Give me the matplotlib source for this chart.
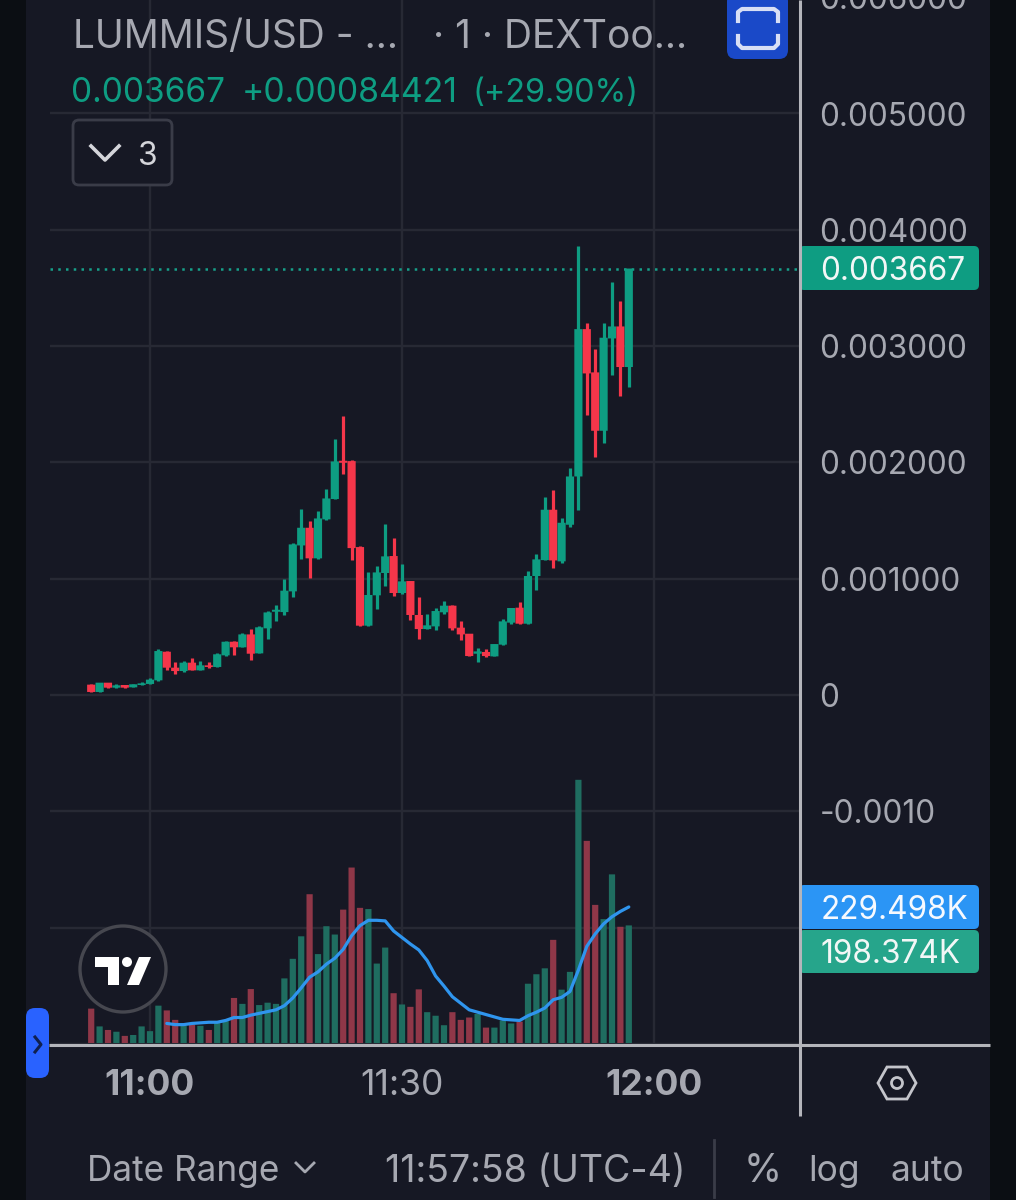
"""
plot.py

LUMMIS/USD 1 minute candles with volume and volume MA, phone screenshot style.
"""

import numpy as np
import matplotlib
matplotlib.use("Agg")
import matplotlib.pyplot as plt
from matplotlib.patches import Rectangle, FancyBboxPatch, Circle, Polygon

plt.rcParams["font.family"] = ["Inter", "DejaVu Sans"]

# minutes relative to 11:00, one candle per minute
minutes = list(range(-7, 58))

# prices in millionths of a USD
opens = [89, 26, 106, 63, 86, 66, 86, 95, 126, 372, 235, 206, 278, 212, 255, 241, 341, 458, 410, 521,
         358, 573, 716, 713, 891, 1286, 1438, 1175, 1510, 1685, 2014, 2011, 1272, 596, 857, 1049, 1195,
         877, 980, 688, 567, 590, 711, 768, 579, 527, 355, 370, 332, 433, 622, 751, 613, 1023, 1160,
         1593, 1149, 1464, 1879, 3146, 2774, 2272, 3066, 3169, 2820]
closes = [26, 106, 63, 83, 63, 92, 100, 132, 378, 235, 206, 278, 212, 255, 241, 350, 458, 410, 521, 355,
          582, 710, 733, 897, 1295, 1438, 1175, 1518, 1690, 2008, 1997, 1263, 596, 860, 1054, 1192, 877,
          977, 688, 567, 599, 722, 768, 573, 521, 335, 375, 335, 438, 633, 748, 613, 1023, 1166, 1593,
          1157, 1481, 1879, 3146, 2765, 2272, 3072, 3169, 2820, 3667]
highs = [95, 106, 106, 97, 86, 92, 112, 143, 395, 375, 284, 292, 315, 292, 284, 358, 461, 461, 536, 564,
         593, 722, 771, 1000, 1306, 1602, 1496, 1579, 1773, 2200, 2401, 2020, 1280, 1060, 1112, 1467,
         1352, 1129, 980, 842, 699, 751, 811, 771, 633, 527, 401, 393, 438, 650, 748, 802, 1066, 1209,
         1702, 1765, 1524, 1954, 3862, 3195, 2974, 3195, 3553, 3387, 3667]
lows = [26, 26, 63, 63, 63, 66, 86, 92, 123, 218, 183, 198, 212, 212, 232, 241, 332, 341, 410, 298,
        358, 484, 633, 685, 842, 1172, 1008, 1166, 1501, 1685, 1897, 1157, 596, 596, 736, 934, 851,
        868, 642, 478, 567, 556, 699, 562, 470, 335, 284, 324, 332, 433, 613, 613, 613, 900, 1160,
        1092, 1135, 1447, 1590, 2407, 2049, 2169, 2754, 2573, 2650]

# volume in thousands
volume = [58, 28, 22, 19, 12, 13.5, 28, 20, 63, 55, 39, 29, 31, 29, 22, 34, 37, 76, 66, 91,
          64, 68, 66, 109, 142, 180, 251, 150, 197, 183, 225, 296, 228, 226, 134, 161, 84,
          65, 61, 90.5, 52, 46, 30, 52, 39, 43, 49, 26, 26, 38, 33, 36, 100, 116, 126,
          174, 90, 120, 444, 341, 233, 209, 284.5, 196, 198.374]
volume_ma = [33, 31, 31, 33, 34, 35, 35, 38, 43, 43, 47, 50, 53, 56, 63, 76, 93, 111, 120, 133, 143,
             158, 181, 198, 207, 207, 206, 189, 178, 167, 157, 139, 113, 96, 78, 67, 56, 52, 48, 44,
             40, 39, 38, 46, 52, 59, 73, 77, 87, 123, 163, 184, 201, 213, 222, 229.498]
ma_minutes = list(range(2, 58))

last_price = 3667
price_ticks = [-3000, -2000, -1000, 0, 1000, 2000, 3000, 4000, 5000, 6000]
price_tick_labels = ["", "", "-0.0010", "0", "0.001000", "0.002000", "0.003000",
                     "0.004000", "0.005000", "0.006000"]
time_ticks = [0, 30, 60]
time_labels = ["11:00", "11:30", "12:00"]

BG = "#161824"
OUTER = "#0b0e13"
GRID = "#272934"
GREEN = "#0e9d82"
RED = "#f5364a"
VOL_GREEN = "#1f6d60"
VOL_RED = "#8f3748"
TEXT = "#a6a8b1"
LINE = "#b4b5bb"
W, H = 1016, 1200

fig = plt.figure(figsize=(W / 100, H / 100), dpi=100, facecolor=BG)

# the plot area runs a little above the canvas so the 0.006000 label gets cut off
top_px, bottom_px, left_px, right_px = -10, 1045, 50, 800
pos = [left_px / W, 1 - bottom_px / H, (right_px - left_px) / W, (bottom_px - top_px) / H]

ax = fig.add_axes(pos, facecolor=BG, zorder=1)
ax.set_xlim((left_px - 150) / 8.4, (right_px - 150) / 8.4)
# 0 sits at y=695, 1000 units are 116.3 px
ax.set_ylim((695 - bottom_px) / 0.1163, (695 - top_px) / 0.1163)
for spine in ax.spines.values():
    spine.set_visible(False)
ax.set_yticks(price_ticks)
ax.set_yticklabels(price_tick_labels, fontsize=22.7, color=TEXT)
ax.yaxis.tick_right()
ax.tick_params(axis="y", length=0, pad=14)
ax.set_xticks(time_ticks)
ax.set_xticklabels(time_labels, fontsize=25.5, color=TEXT)
ax.tick_params(axis="x", length=0, pad=17)
for tick, weight in zip(ax.get_xticklabels(), ["bold", "normal", "bold"]):
    tick.set_fontweight(weight)
ax.grid(True, color=GRID, linewidth=1.7)
ax.set_axisbelow(True)

o = np.array(opens)
c = np.array(closes)
colors = [GREEN if b >= a else RED for a, b in zip(o, c)]
ax.vlines(minutes, lows, highs, colors=colors, linewidth=2.3, zorder=3)
# snap off, otherwise the bodies get rounded down to whole pixels and look thin
ax.bar(minutes, np.maximum(np.abs(c - o), 8), bottom=np.minimum(o, c), width=0.97, color=colors,
       zorder=3, snap=False)
ax.axhline(last_price, color="#17a08a", linewidth=1.8, linestyle=(0, (1, 2.1)), zorder=2)

# volume pane shares the area, baseline at y=1043, 1.687K per px
vax = fig.add_axes(pos, facecolor="none", zorder=2)
vax.set_xlim(ax.get_xlim())
vax.set_ylim((1043 - bottom_px) * 1.687, (1043 - top_px) * 1.687)
vax.axis("off")
vol_colors = [VOL_GREEN if b >= a else VOL_RED for a, b in zip(o, c)]
vax.bar(minutes, volume, width=0.74, color=vol_colors, snap=False)
vax.plot(ma_minutes, volume_ma, color="#2f95ee", linewidth=2.3, solid_capstyle="round")

# screenshot chrome, in pixels
ui = fig.add_axes([0, 0, 1, 1], facecolor="none", zorder=3)
ui.set_xlim(0, W)
ui.set_ylim(H, 0)
ui.axis("off")

ui.add_patch(Rectangle((0, 0), 26, H, color=OUTER, lw=0))
ui.add_patch(Rectangle((990, 0), 26, H, color=OUTER, lw=0))
ui.plot([49, 990], [1045, 1045], color=LINE, lw=2.2, solid_capstyle="butt")
ui.plot([800, 800], [0, 1116], color=LINE, lw=2.2, solid_capstyle="butt")
ui.plot([714, 714], [1140, 1197], color="#3a3c48", lw=2)


def label(x, y, s, color=TEXT, size=22.7, ha="left", weight="normal"):
    ui.text(x, y, s, color=color, fontsize=size, ha=ha, va="center_baseline", fontweight=weight)


def rounded(x0, y0, x1, y1, r, face, edge="none", lw=0):
    ui.add_patch(FancyBboxPatch((x0 + r, y0 + r), x1 - x0 - 2 * r, y1 - y0 - 2 * r,
                                boxstyle=f"round,pad={r},rounding_size={r}",
                                facecolor=face, edgecolor=edge, linewidth=lw))


# header
label(73, 33, "LUMMIS/USD - ...", size=28)
label(433, 33, "· 1 · DEXToo...", size=28)
label(71, 90, "0.003667", color=GREEN, size=24)
label(242, 90, "+0.00084421", color=GREEN, size=24.3)
label(473, 90, "(+29.90%)", color=GREEN, size=23.3)

rounded(73, 120, 172, 185, 6, BG, edge="#3a3c48", lw=2)
ui.plot([91, 105, 119], [146, 160, 146], color="#d4d5da", lw=2.6)
label(138, 153, "3", color="#d4d5da", size=23)

rounded(727, -8, 788, 59, 9, "#1a49c8")
ui.plot([738, 738, 742, 774, 778, 778], [21, 12, 9, 9, 12, 21], color="#d8dff5", lw=3)
ui.plot([738, 738, 742, 774, 778, 778], [36, 44, 48, 48, 44, 36], color="#d8dff5", lw=3)

# price and volume tags
rounded(799, 246, 979, 290, 5, "#0e9d82")
label(820, 268, "0.003667", color="#f2f7f6")
rounded(799, 885, 979, 929, 5, "#2b95f5")
label(821, 907, "229.498K", color="#f6f9fe")
rounded(799, 930, 979, 973, 5, "#26a58b")
label(821, 951, "198.374K", color="#f2f7f6")

# tradingview badge
ui.add_patch(Circle((123, 969), 43, facecolor=BG, edgecolor="#46474f", linewidth=2.4))
ui.add_patch(Polygon([(95, 957), (119, 957), (119, 985), (108, 985), (108, 967), (95, 967)], color="white", lw=0))
ui.add_patch(Circle((127, 962), 5, color="white", lw=0))
ui.add_patch(Polygon([(139, 957), (151, 957), (139, 985), (127, 985)], color="white", lw=0))

# collapse tab
rounded(26, 1008, 49, 1078, 9, "#2962ff")
ui.plot([35, 41, 35], [1037, 1044.5, 1052], color="#10204f", lw=2.2)

# settings hexagon
ui.add_patch(Polygon([(878, 1083), (887, 1067), (907, 1067), (916, 1083), (907, 1099), (887, 1099)],
                     fill=False, edgecolor="#c4c5cb", linewidth=2))
ui.add_patch(Circle((897, 1083), 5.5, fill=False, edgecolor="#c4c5cb", linewidth=2))

# bottom toolbar
label(87, 1168, "Date Range", size=25.3)
ui.plot([296, 305, 314], [1163, 1172, 1163], color=TEXT, lw=2)
label(385, 1168, "11:57:58 (UTC-4)", size=27)
label(744, 1168, "%", size=28)
label(808, 1168, "log", size=25.5)
label(891, 1168, "auto", size=25.5)

fig.savefig("out.png", dpi=100, facecolor=fig.get_facecolor())
plt.close(fig)
